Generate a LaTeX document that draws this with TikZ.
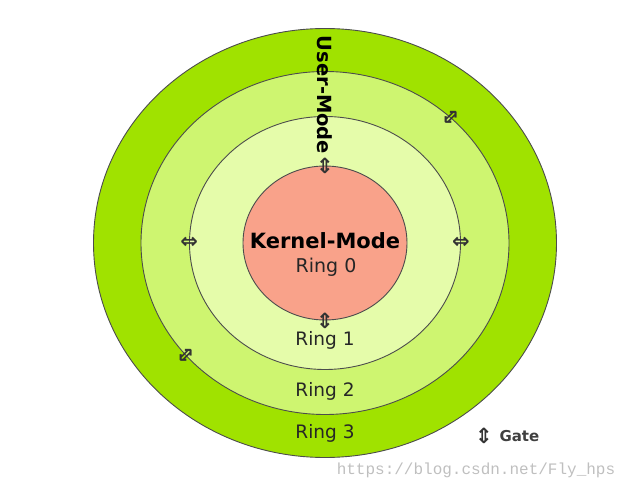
\documentclass[tikz,border=0pt]{standalone}
\usepackage{fontspec}
\setmainfont{DejaVu Sans}
\newfontfamily\wmfont{Liberation Mono}
\usetikzlibrary{shapes, positioning}
\definecolor{ringthree}{RGB}{160,226,0}
\definecolor{ringtwo}{RGB}{206,245,112}
\definecolor{ringone}{RGB}{229,252,170}
\definecolor{ringzero}{RGB}{249,162,138}
\tikzstyle{ring} = [ellipse, draw=black!70, line width=0.9pt, inner sep=0pt]
\tikzstyle{ringtext} = [font=\fontsize{18.5}{20}\selectfont, text=black!85, inner sep=0.5pt]
\tikzstyle{modetext} = [font=\bfseries\fontsize{19.5}{21}\selectfont, text=black, inner sep=0.5pt]
\tikzstyle{gate} = [font=\bfseries\fontsize{21}{21}\selectfont, inner sep=0pt, text=black!80]

\begin{document}
\begin{tikzpicture}[x=1pt, y=1pt, node distance=0.5cm]
\useasboundingbox (0,0) rectangle (633,491);
\coordinate (c) at (325,248);
% the four rings, outside in
\node [ring, fill=ringthree, minimum width=463pt, minimum height=429pt] (ring3) at (c) {};
\node [ring, fill=ringtwo, minimum width=368pt, minimum height=343pt] (ring2) at (c) {};
\node [ring, fill=ringone, minimum width=271pt, minimum height=253pt] (ring1) at (c) {};
\node [ring, fill=ringzero, minimum width=164pt, minimum height=154pt] (ring0) at (c) {};
% labels
\node [modetext, font=\bfseries\fontsize{21}{23}\selectfont] (kernel) at (325,250) {Kernel-Mode};
\node [ringtext, font=\fontsize{19}{21}\selectfont] (r0) at (326,224) {Ring 0};
\node [ringtext] (r1) at (325,151) {Ring 1};
\node [ringtext] (r2) at (325,100) {Ring 2};
\node [ringtext] (r3) at (325,58) {Ring 3};
\node [modetext, rotate=-90] (user) at (325,396) {User-Mode};
% gates
\node [gate] (g0n) at (ring0.north) {⇕};
\node [gate] (g0s) at (ring0.south) {⇕};
\node [gate] (g1w) at (ring1.west) {⇔};
\node [gate] (g1e) at (ring1.east) {⇔};
\node [gate, rotate=-45] (g2ne) at (ring2.45) {⇕};
\node [gate, rotate=-45] (g2sw) at (ring2.219) {⇕};
% key
\node [gate] (gatekey) at (484,55) {⇕};
\node [right=3pt of gatekey, font=\bfseries\fontsize{15}{15}\selectfont, text=black!75] (gatetext) {Gate};
\node [font=\wmfont\fontsize{16}{16}\selectfont, text=black!25] (wm) at (476,21) {https://blog.csdn.net/Fly\_hps};
\end{tikzpicture}
\end{document}
